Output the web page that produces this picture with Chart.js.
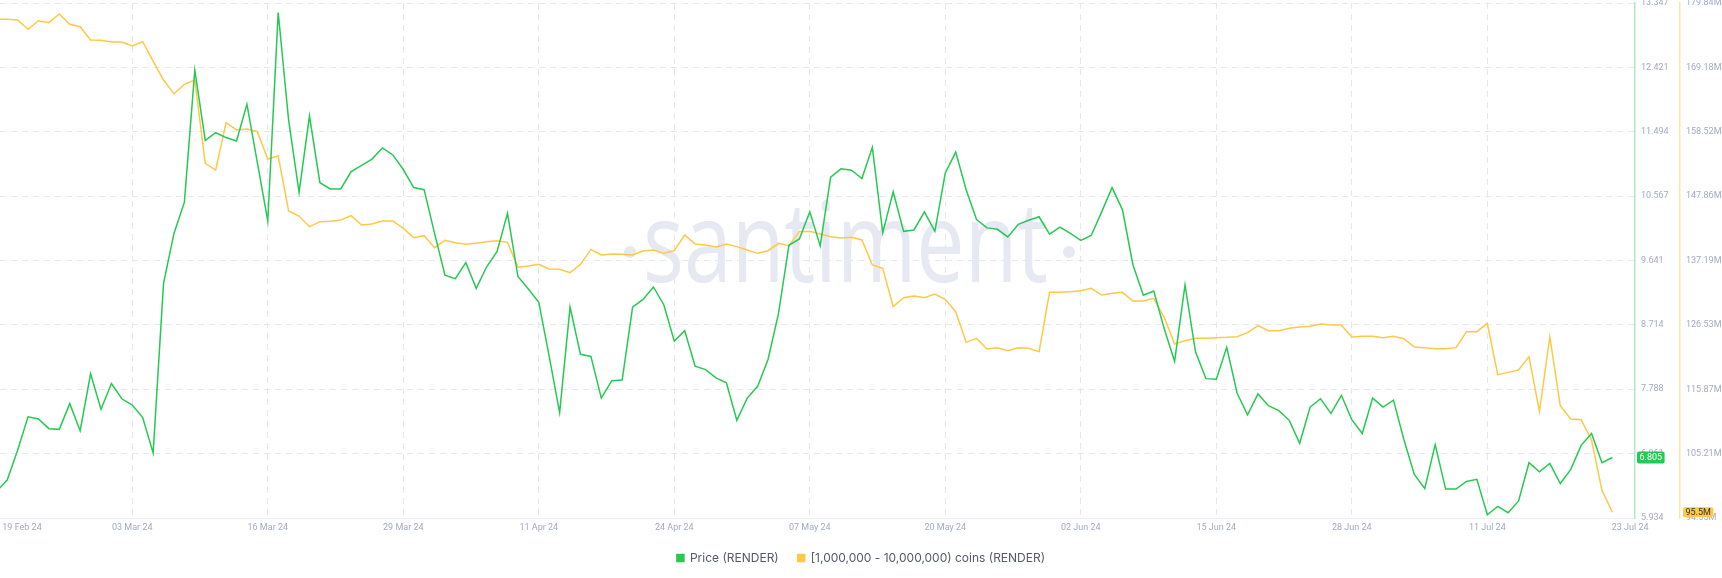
<!DOCTYPE html>
<html lang="en">
<head>
<meta charset="UTF-8" />
<title>render price vs holders</title>
<script src="https://cdn.jsdelivr.net/npm/chart.js"></script>
<style>
  body, html { margin: 0; padding: 0; background: #fff; }
  #wrap { width: 1722px; height: 578px; position: relative; }
</style>
</head>
<body>
<div id="wrap"><canvas id="chart"></canvas></div>
<script>
  // daily values, first day = 19 Feb 24
  const priceValues = [
    6.32, 6.48, 6.91, 7.39, 7.36, 7.22, 7.21, 7.58, 7.19, 8.01,
    7.50, 7.87, 7.65, 7.56, 7.38, 6.87, 9.31, 10.03, 10.48, 12.38,
    11.37, 11.48, 11.41, 11.36, 11.89, 11.05, 10.21, 13.21, 11.66, 10.62,
    11.72, 10.76, 10.67, 10.67, 10.92, 11.01, 11.10, 11.26, 11.16, 10.95,
    10.69, 10.66, 10.03, 9.43, 9.38, 9.61, 9.24, 9.55, 9.77, 10.32,
    9.41, 9.23, 9.04, 8.26, 7.45, 8.97, 8.29, 8.26, 7.66, 7.91,
    7.92, 8.97, 9.08, 9.26, 9.00, 8.48, 8.63, 8.12, 8.07, 7.95,
    7.88, 7.34, 7.66, 7.83, 8.22, 8.88, 9.86, 9.95, 10.34, 9.85,
    10.84, 10.96, 10.94, 10.82, 11.27, 10.04, 10.63, 10.06, 10.08, 10.34,
    10.06, 10.90, 11.20, 10.66, 10.23, 10.11, 10.09, 9.98, 10.16, 10.22,
    10.27, 10.02, 10.12, 10.03, 9.93, 10.00, 10.34, 10.69, 10.37, 9.58,
    9.14, 9.20, 8.66, 8.19, 9.29, 8.33, 7.94, 7.93, 8.39, 7.73,
    7.42, 7.72, 7.55, 7.48, 7.34, 7.01, 7.53, 7.65, 7.44, 7.70,
    7.35, 7.15, 7.66, 7.53, 7.63, 7.06, 6.56, 6.36, 6.99, 6.35,
    6.35, 6.46, 6.49, 5.98, 6.10, 6.01, 6.18, 6.73, 6.60, 6.72,
    6.43, 6.63, 6.98, 7.15, 6.73, 6.805
  ];

  // supply held by 1M-10M coin wallets, millions
  const holderValues = [
    177.13, 177.13, 177.02, 175.48, 176.91, 176.58, 178.02, 176.31, 175.92, 173.71,
    173.66, 173.38, 173.38, 172.72, 173.43, 170.23, 167.09, 164.82, 166.37, 167.09,
    153.29, 152.18, 160.02, 158.81, 158.97, 158.53, 154.00, 154.50, 145.39, 144.56,
    142.80, 143.63, 143.68, 143.90, 144.62, 143.07, 143.24, 143.74, 143.74, 142.52,
    140.98, 141.31, 139.32, 140.53, 140.15, 139.87, 140.04, 140.31, 140.48, 140.20,
    136.06, 136.28, 136.56, 135.79, 135.73, 135.18, 136.56, 139.04, 138.11, 138.27,
    138.22, 138.11, 138.77, 138.93, 138.38, 138.82, 141.42, 139.93, 139.76, 139.43,
    139.93, 139.49, 138.93, 138.38, 138.82, 140.04, 139.65, 141.97, 142.02, 141.58,
    141.14, 140.92, 141.03, 140.59, 136.45, 135.90, 129.55, 131.04, 131.32, 131.04,
    131.65, 130.76, 128.72, 123.64, 124.30, 122.54, 122.76, 122.26, 122.76, 122.65,
    122.10, 131.92, 131.92, 132.03, 132.20, 132.58, 131.48, 131.76, 131.92, 130.49,
    130.49, 130.93, 127.78, 123.37, 123.92, 124.30, 124.30, 124.41, 124.47, 124.58,
    125.24, 126.40, 125.57, 125.57, 125.96, 126.18, 126.29, 126.68, 126.51, 126.51,
    124.53, 124.64, 124.64, 124.41, 124.64, 124.25, 122.87, 122.76, 122.59, 122.59,
    122.76, 125.41, 125.41, 126.79, 118.29, 118.67, 119.06, 121.27, 112.21, 124.53,
    113.15, 110.95, 110.83, 107.47, 99.13, 95.5
  ];

  const dateTickLabels = ['19 Feb 24', '03 Mar 24', '16 Mar 24', '29 Mar 24', '11 Apr 24', '24 Apr 24',
    '07 May 24', '20 May 24', '02 Jun 24', '15 Jun 24', '28 Jun 24', '11 Jul 24', '23 Jul 24'];
  const priceTickLabels = ['5.934', '6.861', '7.788', '8.714', '9.641', '10.567', '11.494', '12.421', '13.347'];
  const holderTickLabels = ['94.55M', '105.21M', '115.87M', '126.53M', '137.19M', '147.86M', '158.52M', '169.18M', '179.84M'];

  const green = '#26c953';
  const yellow = '#ffc847';
  const tickColor = '#a2aac3';
  const gridColor = '#e4e7f2';

  Chart.defaults.font.family = 'Roboto';

  const watermark = {
    id: 'watermark',
    beforeDatasetsDraw(chart) {
      const ctx = chart.ctx;
      ctx.save();
      ctx.fillStyle = '#e6e8f2';
      ctx.font = '400 112px "Open Sans"';
      const w = ctx.measureText('santiment').width;
      ctx.translate(643, 282);
      ctx.scale(405 / w, 1);
      ctx.textBaseline = 'alphabetic';
      ctx.fillText('santiment', 0, 0);
      ctx.restore();
      ctx.save();
      ctx.fillStyle = '#e6e8f2';
      [630, 1069].forEach(x => {
        ctx.beginPath();
        ctx.arc(x, 252, 6, 0, Math.PI * 2);
        ctx.fill();
      });
      ctx.restore();
    }
  };

  const lastBadges = {
    id: 'lastBadges',
    afterDraw(chart) {
      const ctx = chart.ctx;
      const badge = (scale, value, text, bg, fg, dx, h) => {
        const y = scale.getPixelForValue(value);
        ctx.save();
        ctx.font = '9px Roboto';
        const w = ctx.measureText(text).width + 5;
        ctx.fillStyle = bg;
        ctx.beginPath();
        ctx.roundRect(scale.left + dx, y - h / 2, w, h, 2);
        ctx.fill();
        ctx.fillStyle = fg;
        ctx.textBaseline = 'middle';
        ctx.fillText(text, scale.left + dx + 2.5, y + 0.5);
        ctx.restore();
      };
      badge(chart.scales.y, priceValues[priceValues.length - 1], '6.805', green, '#fff', 2, 12);
      badge(chart.scales.y1, holderValues[holderValues.length - 1], '95.5M', yellow, '#333', 3, 10);
    }
  };

  const rightAxisFit = (w) => (scale) => {
    scale.width = w;
    scale.paddingTop = 3;
    scale.paddingBottom = 0;
  };

  new Chart(document.getElementById('chart'), {
    type: 'line',
    data: {
      datasets: [{
        label: 'Price (RENDER)',
        data: priceValues.map((v, i) => ({ x: i, y: v })),
        borderColor: green,
        backgroundColor: green,
        borderWidth: 1.5,
        pointRadius: 0,
        yAxisID: 'y',
        clip: 0
      }, {
        label: '[1,000,000 - 10,000,000) coins (RENDER)',
        data: holderValues.map((v, i) => ({ x: i, y: v })),
        borderColor: yellow,
        backgroundColor: yellow,
        borderWidth: 1.5,
        pointRadius: 0,
        yAxisID: 'y1',
        clip: 0
      }]
    },
    options: {
      responsive: true,
      maintainAspectRatio: false,
      animation: false,
      layout: { padding: { left: 0, right: 0, top: 0, bottom: 4 } },
      plugins: {
        legend: {
          position: 'bottom',
          labels: { boxWidth: 7, boxHeight: 7, padding: 19, color: '#545a69', font: { size: 12, family: 'Inter' } }
        },
        tooltip: { enabled: false }
      },
      scales: {
        x: {
          type: 'linear',
          min: 0.31,
          max: 157.17,
          afterBuildTicks(scale) {
            const vals = [2.42];
            for (let k = 1; k <= 11; k++) vals.push(k * 13);
            vals.push(156.7);
            scale.ticks = vals.map(v => ({ value: v }));
          },
          afterFit(scale) {
            scale.height = 578 - 518 - 4 - scale.chart.legend.height;
            scale.paddingLeft = 0;
            scale.paddingRight = 0;
          },
          ticks: {
            autoSkip: false,
            maxRotation: 0,
            padding: 4,
            color: tickColor,
            font: { size: 9 },
            callback: (v, i) => dateTickLabels[i]
          },
          grid: {
            drawTicks: false,
            color: ctx => (ctx.tick && ctx.tick.value % 13 === 0) ? gridColor : 'rgba(0,0,0,0)'
          },
          border: { color: '#eceef6', width: 1, dash: [6, 5] }
        },
        y: {
          position: 'right',
          min: 5.934,
          max: 13.347,
          afterBuildTicks(scale) {
            scale.ticks = priceTickLabels.map(t => ({ value: parseFloat(t) }));
          },
          afterFit: rightAxisFit(45),
          ticks: {
            padding: 6,
            color: tickColor,
            font: { size: 9 },
            callback: (v, i) => priceTickLabels[i]
          },
          grid: { drawTicks: false, color: gridColor },
          border: { color: '#b3e8c2', width: 1.5, dash: [6, 5] }
        },
        y1: {
          position: 'right',
          min: 94.55,
          max: 179.84,
          afterBuildTicks(scale) {
            scale.ticks = holderTickLabels.map(t => ({ value: parseFloat(t) }));
          },
          afterFit: rightAxisFit(42),
          ticks: {
            padding: 6,
            color: tickColor,
            font: { size: 9 },
            callback: (v, i) => holderTickLabels[i]
          },
          grid: { drawOnChartArea: false, drawTicks: false },
          border: { color: '#ffe3a6', width: 1.5 }
        }
      }
    },
    plugins: [watermark, lastBadges]
  });
</script>
</body>
</html>
